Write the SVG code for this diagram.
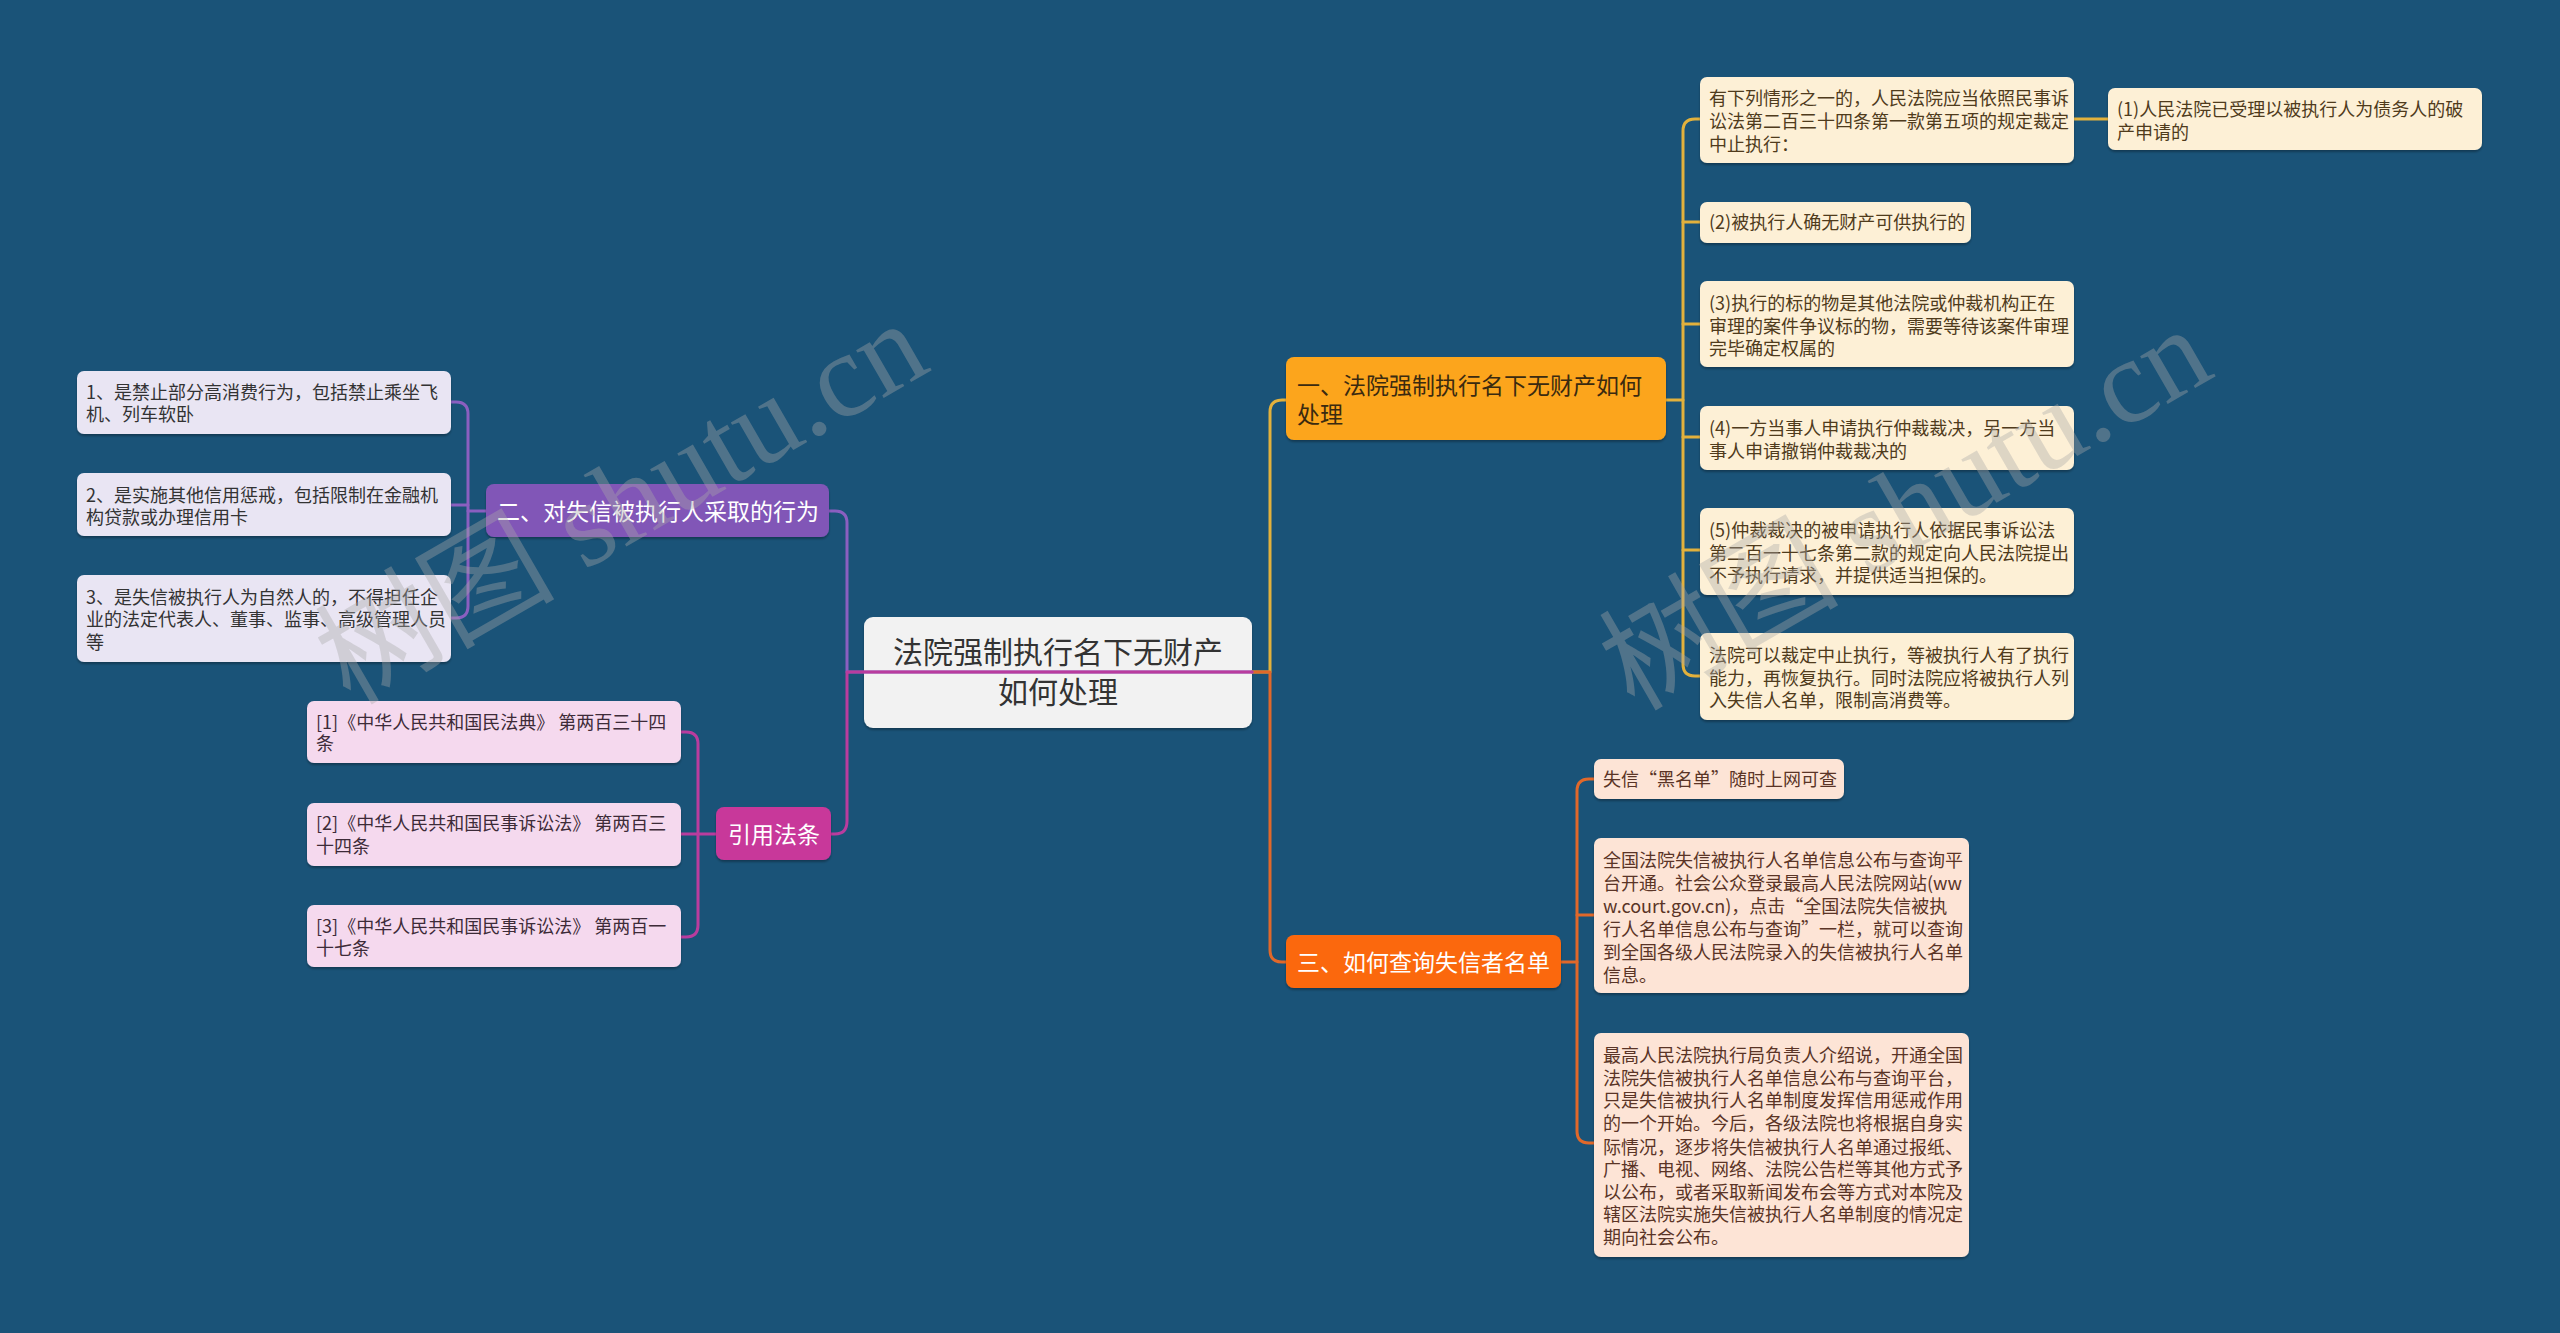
<svg xmlns="http://www.w3.org/2000/svg" width="2560" height="1333" viewBox="0 0 2560 1333">
<defs>
<filter id="sh" x="-5%" y="-10%" width="110%" height="130%">
<feDropShadow dx="0" dy="2" stdDeviation="1.2" flood-color="#000" flood-opacity="0.3"/>
</filter>
<style>
text{font-family:"Noto Sans CJK SC","Noto Sans",sans-serif;}
.box{filter:url(#sh);}
.cream{fill:#fdf0d6;}
.lav{fill:#e9e5f3;}
.pink{fill:#f5d9ee;}
.peach{fill:#fde4d6;}
.t18{font-size:18px;}
.tc{fill:#4f3b1c;}
.tl{fill:#333333;}
.tp{fill:#3d2b38;}
.ts{fill:#5a3426;}
.t23{font-size:23px;}
.w{fill:#ffffff;}
.c{fill:none;stroke-width:3;stroke-linecap:round;stroke-linejoin:round;}
.gold{stroke:#e2b13c;}
.org{stroke:#e0682a;}
.pur{stroke:#8a5fc0;}
.mag{stroke:#b93c9e;}
.wm{font-family:"Liberation Serif","Noto Sans CJK SC",serif;font-size:120px;fill:#a8a8a8;fill-opacity:0.38;}
</style>
</defs>
<rect width="2560" height="1333" fill="#1a5378"/>

<g id="root">
<rect class="box" x="864" y="617" width="388" height="111" rx="9" fill="#f2f2f2"/>
<text x="1058" y="663" font-size="30" fill="#333" text-anchor="middle">法院强制执行名下无财产</text>
<text x="1058" y="703" font-size="30" fill="#333" text-anchor="middle">如何处理</text>
</g>

<g id="connectors">
<path class="c gold" d="M1252 672 H1270 V412 Q1270 400 1282 400 H1286"/>
<path class="c org" d="M1252 672 H1270 V950 Q1270 962 1282 962 H1286"/>
<path class="c pur" d="M1252 672 H847 V523 Q847 511 835 511 H829"/>
<path class="c mag" d="M1252 672 H847 V821 Q847 834 835 834 H831"/>
<path class="c gold" d="M1666 400 H1683"/>
<path class="c gold" d="M1700 119 H1695 Q1683 119 1683 131 V664 Q1683 676 1695 676 H1700"/>
<path class="c gold" d="M1683 222 H1700 M1683 324 H1700 M1683 437 H1700 M1683 550 H1700"/>
<path class="c gold" d="M2074 119 H2108"/>
<path class="c org" d="M1561 962 H1577"/>
<path class="c org" d="M1594 779 H1589 Q1577 779 1577 791 V1131 Q1577 1143 1589 1143 H1594"/>
<path class="c org" d="M1577 915 H1594"/>
<path class="c pur" d="M486 511 H468"/>
<path class="c pur" d="M451 402 H456 Q468 402 468 414 V606 Q468 618 456 618 H451"/>
<path class="c pur" d="M451 505 H468"/>
<path class="c mag" d="M716 834 H698"/>
<path class="c mag" d="M681 732 H686 Q698 732 698 744 V925 Q698 937 686 937 H681"/>
<path class="c mag" d="M681 834 H698"/>
</g>

<g id="n1">
<rect class="box" x="1286" y="357" width="380" height="83" rx="8" fill="#fca51e"/>
<text class="t23" x="1297" y="394" fill="#3a2a10">一、法院强制执行名下无财产如何</text>
<text class="t23" x="1297" y="423" fill="#3a2a10">处理</text>
</g>
<g id="n2">
<rect class="box" x="486" y="484" width="343" height="53" rx="8" fill="#8157b7"/>
<text class="t23 w" x="497" y="520">二、对失信被执行人采取的行为</text>
</g>
<g id="n3">
<rect class="box" x="716" y="807" width="115" height="53" rx="8" fill="#c8379a"/>
<text class="t23 w" x="728" y="843">引用法条</text>
</g>
<g id="n4">
<rect class="box" x="1286" y="935" width="275" height="53" rx="8" fill="#fb680f"/>
<text class="t23 w" x="1297" y="971">三、如何查询失信者名单</text>
</g>

<g id="a">
<rect class="box cream" x="1700" y="77" width="374" height="86" rx="7"/>
<text class="t18 tc" x="1709" y="105">有下列情形之一的，人民法院应当依照民事诉</text>
<text class="t18 tc" x="1709" y="128">讼法第二百三十四条第一款第五项的规定裁定</text>
<text class="t18 tc" x="1709" y="151">中止执行：</text>
</g>
<g id="a1">
<rect class="box cream" x="2108" y="88" width="374" height="62" rx="7"/>
<text class="t18 tc" x="2117" y="116">(1)人民法院已受理以被执行人为债务人的破</text>
<text class="t18 tc" x="2117" y="139">产申请的</text>
</g>
<g id="b">
<rect class="box cream" x="1700" y="202" width="271" height="41" rx="7"/>
<text class="t18 tc" x="1709" y="229">(2)被执行人确无财产可供执行的</text>
</g>
<g id="c3">
<rect class="box cream" x="1700" y="281" width="374" height="86" rx="7"/>
<text class="t18 tc" x="1709" y="310">(3)执行的标的物是其他法院或仲裁机构正在</text>
<text class="t18 tc" x="1709" y="333">审理的案件争议标的物，需要等待该案件审理</text>
<text class="t18 tc" x="1709" y="355">完毕确定权属的</text>
</g>
<g id="d">
<rect class="box cream" x="1700" y="406" width="374" height="64" rx="7"/>
<text class="t18 tc" x="1709" y="435">(4)一方当事人申请执行仲裁裁决，另一方当</text>
<text class="t18 tc" x="1709" y="458">事人申请撤销仲裁裁决的</text>
</g>
<g id="e">
<rect class="box cream" x="1700" y="508" width="374" height="87" rx="7"/>
<text class="t18 tc" x="1709" y="537">(5)仲裁裁决的被申请执行人依据民事诉讼法</text>
<text class="t18 tc" x="1709" y="560">第二百一十七条第二款的规定向人民法院提出</text>
<text class="t18 tc" x="1709" y="582">不予执行请求，并提供适当担保的。</text>
</g>
<g id="f">
<rect class="box cream" x="1700" y="633" width="374" height="87" rx="7"/>
<text class="t18 tc" x="1709" y="662">法院可以裁定中止执行，等被执行人有了执行</text>
<text class="t18 tc" x="1709" y="685">能力，再恢复执行。同时法院应将被执行人列</text>
<text class="t18 tc" x="1709" y="707">入失信人名单，限制高消费等。</text>
</g>

<g id="l1">
<rect class="box lav" x="77" y="371" width="374" height="63" rx="7"/>
<text class="t18 tl" x="86" y="399">1、是禁止部分高消费行为，包括禁止乘坐飞</text>
<text class="t18 tl" x="86" y="421">机、列车软卧</text>
</g>
<g id="l2">
<rect class="box lav" x="77" y="473" width="374" height="63" rx="7"/>
<text class="t18 tl" x="86" y="502">2、是实施其他信用惩戒，包括限制在金融机</text>
<text class="t18 tl" x="86" y="524">构贷款或办理信用卡</text>
</g>
<g id="l3">
<rect class="box lav" x="77" y="575" width="374" height="87" rx="7"/>
<text class="t18 tl" x="86" y="604">3、是失信被执行人为自然人的，不得担任企</text>
<text class="t18 tl" x="86" y="626">业的法定代表人、董事、监事、高级管理人员</text>
<text class="t18 tl" x="86" y="649">等</text>
</g>

<g id="r1">
<rect class="box pink" x="307" y="701" width="374" height="62" rx="7"/>
<text class="t18 tp" x="316" y="729">[1]《中华人民共和国民法典》 第两百三十四</text>
<text class="t18 tp" x="316" y="750">条</text>
</g>
<g id="r2">
<rect class="box pink" x="307" y="803" width="374" height="63" rx="7"/>
<text class="t18 tp" x="316" y="830">[2]《中华人民共和国民事诉讼法》 第两百三</text>
<text class="t18 tp" x="316" y="853">十四条</text>
</g>
<g id="r3">
<rect class="box pink" x="307" y="905" width="374" height="62" rx="7"/>
<text class="t18 tp" x="316" y="933">[3]《中华人民共和国民事诉讼法》 第两百一</text>
<text class="t18 tp" x="316" y="955">十七条</text>
</g>

<g id="s1">
<rect class="box peach" x="1594" y="759" width="250" height="40" rx="7"/>
<text class="t18 ts" x="1603" y="786">失信“黑名单”随时上网可查</text>
</g>
<g id="s2">
<rect class="box peach" x="1594" y="838" width="375" height="155" rx="7"/>
<text class="t18 ts" x="1603" y="867">全国法院失信被执行人名单信息公布与查询平</text>
<text class="t18 ts" x="1603" y="890">台开通。社会公众登录最高人民法院网站(ww</text>
<text class="t18 ts" x="1603" y="913">w.court.gov.cn)，点击“全国法院失信被执</text>
<text class="t18 ts" x="1603" y="936">行人名单信息公布与查询”一栏，就可以查询</text>
<text class="t18 ts" x="1603" y="959">到全国各级人民法院录入的失信被执行人名单</text>
<text class="t18 ts" x="1603" y="982">信息。</text>
</g>
<g id="s3">
<rect class="box peach" x="1594" y="1033" width="375" height="224" rx="7"/>
<text class="t18 ts" x="1603" y="1062">最高人民法院执行局负责人介绍说，开通全国</text>
<text class="t18 ts" x="1603" y="1085">法院失信被执行人名单信息公布与查询平台，</text>
<text class="t18 ts" x="1603" y="1107">只是失信被执行人名单制度发挥信用惩戒作用</text>
<text class="t18 ts" x="1603" y="1130">的一个开始。今后，各级法院也将根据自身实</text>
<text class="t18 ts" x="1603" y="1154">际情况，逐步将失信被执行人名单通过报纸、</text>
<text class="t18 ts" x="1603" y="1176">广播、电视、网络、法院公告栏等其他方式予</text>
<text class="t18 ts" x="1603" y="1199">以公布，或者采取新闻发布会等方式对本院及</text>
<text class="t18 ts" x="1603" y="1221">辖区法院实施失信被执行人名单制度的情况定</text>
<text class="t18 ts" x="1603" y="1244">期向社会公布。</text>
</g>

<g id="watermark">
<text class="wm" transform="translate(350 706) rotate(-30)">树图 shutu.cn</text>
<text class="wm" transform="translate(1634 712) rotate(-30)">树图 shutu.cn</text>
</g>
</svg>
